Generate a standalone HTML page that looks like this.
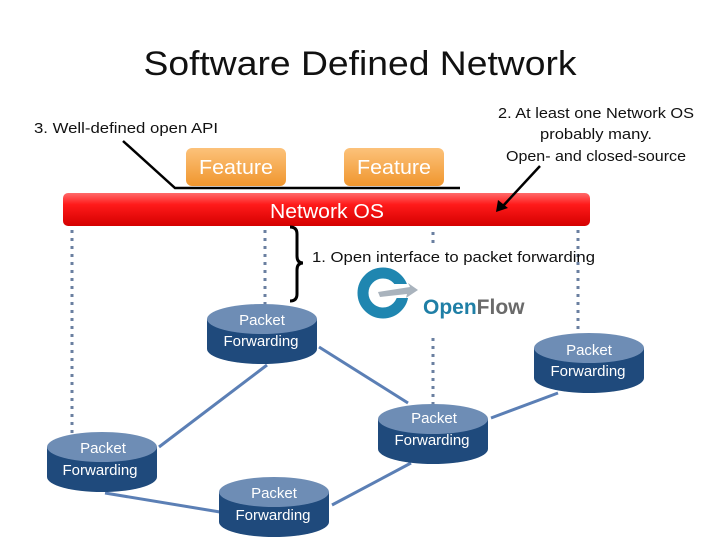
<!DOCTYPE html>
<html><head><meta charset="utf-8"><style>
html,body{margin:0;padding:0;background:#fff;}
svg{display:block;}
text{font-family:"Liberation Sans",sans-serif;}
</style></head><body>
<svg width="720" height="540" viewBox="0 0 720 540" xmlns="http://www.w3.org/2000/svg">
<defs>
<linearGradient id="red" x1="0" y1="0" x2="0" y2="1">
<stop offset="0" stop-color="#ff6a6a"/><stop offset="0.35" stop-color="#ff1a1a"/><stop offset="1" stop-color="#d40000"/>
</linearGradient>
<linearGradient id="org" x1="0" y1="0" x2="0" y2="1">
<stop offset="0" stop-color="#fcc27a"/><stop offset="1" stop-color="#f0962e"/>
</linearGradient>
<g id="cyl">
<path d="M0,15 L0,45 A55,15 0 0 0 110,45 L110,15 Z" fill="#1f4a7c"/>
<ellipse cx="55" cy="15" rx="55" ry="15" fill="#6e8db5"/>
</g>
</defs>
<text x="360" y="75" font-size="34" text-anchor="middle" fill="#111" textLength="433" lengthAdjust="spacingAndGlyphs">Software Defined Network</text>
<text x="34" y="133" font-size="15" fill="#111" textLength="184" lengthAdjust="spacingAndGlyphs">3. Well-defined open API</text>
<g font-size="15" fill="#111" text-anchor="middle">
<text x="596" y="118" textLength="196" lengthAdjust="spacingAndGlyphs">2. At least one Network OS</text>
<text x="596" y="139" textLength="112" lengthAdjust="spacingAndGlyphs">probably many.</text>
<text x="596" y="161" textLength="180" lengthAdjust="spacingAndGlyphs">Open- and closed-source</text>
</g>
<rect x="186" y="148" width="100" height="38" rx="6" fill="url(#org)"/>
<rect x="344" y="148" width="100" height="38" rx="6" fill="url(#org)"/>
<text x="236" y="174" font-size="20" fill="#fff" text-anchor="middle" textLength="74" lengthAdjust="spacingAndGlyphs">Feature</text>
<text x="394" y="174" font-size="20" fill="#fff" text-anchor="middle" textLength="74" lengthAdjust="spacingAndGlyphs">Feature</text>
<polyline points="123,141 175,188 460,188" fill="none" stroke="#000" stroke-width="2.5"/>
<rect x="63" y="193" width="527" height="33" rx="5" fill="url(#red)"/>
<text x="327" y="218" font-size="20" fill="#fff" text-anchor="middle" textLength="114" lengthAdjust="spacingAndGlyphs">Network OS</text>
<line x1="540" y1="166" x2="503" y2="206" stroke="#000" stroke-width="2.5"/>
<polygon points="496,212 498,200 508,208" fill="#000"/>
<g stroke="#6a7fa0" stroke-width="3" stroke-dasharray="3,5" fill="none">
<line x1="72" y1="230" x2="72" y2="438"/>
<line x1="265" y1="230" x2="265" y2="306"/>
<line x1="433" y1="232" x2="433" y2="246"/>
<line x1="433" y1="338" x2="433" y2="405"/>
<line x1="578" y1="230" x2="578" y2="337"/>
</g>
<path d="M290,227 Q297,227 297,234 L297,256 Q297,263 303,263 Q297,263 297,270 L297,294 Q297,301 290,301" fill="none" stroke="#000" stroke-width="3"/>
<text x="312" y="262" font-size="15" fill="#111" textLength="283" lengthAdjust="spacingAndGlyphs">1. Open interface to packet forwarding</text>
<g>
<circle cx="383" cy="293" r="20" fill="none" stroke="#1f86b0" stroke-width="11"/>
<rect x="392" y="284" width="22" height="14" fill="#fff"/>
<path d="M378,292 L410,287 L408,283 L418,290 L406,298 L407,294 L380,297 Z" fill="#a9b3bd"/>
<text x="423" y="314" font-size="21" font-weight="bold" fill="#1f7fa6">Open<tspan fill="#6a6a6a">Flow</tspan></text>
</g>
<g stroke="#5b7fb5" stroke-width="3">
<line x1="267" y1="365" x2="159" y2="447"/>
<line x1="319" y1="347" x2="408" y2="403"/>
<line x1="491" y1="418" x2="558" y2="393"/>
<line x1="411" y1="463" x2="332" y2="505"/>
<line x1="105" y1="493" x2="220" y2="512"/>
</g>
<use href="#cyl" x="207" y="304"/>
<use href="#cyl" x="534" y="333"/>
<use href="#cyl" x="378" y="404"/>
<use href="#cyl" x="47" y="432"/>
<use href="#cyl" x="219" y="477"/>
<g font-size="15" fill="#fff" text-anchor="middle">
<text x="262" y="325">Packet</text><text x="261" y="346">Forwarding</text>
<text x="589" y="355">Packet</text><text x="588" y="376">Forwarding</text>
<text x="434" y="423">Packet</text><text x="432" y="445">Forwarding</text>
<text x="103" y="453">Packet</text><text x="100" y="475">Forwarding</text>
<text x="274" y="498">Packet</text><text x="273" y="520">Forwarding</text>
</g>
</svg>
</body></html>
